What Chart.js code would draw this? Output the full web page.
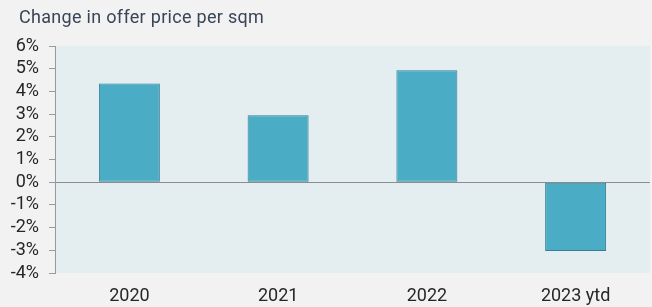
<!DOCTYPE html>
<html>
<head>
<meta charset="utf-8">
<script src="https://cdn.jsdelivr.net/npm/chart.js@4.4.0/dist/chart.umd.min.js"></script>
<style>
  html, body { margin: 0; padding: 0; background: #f2f2f2; }
  #wrap { width: 652px; height: 307px; }
</style>
</head>
<body>
<div id="wrap"><canvas id="myChart" width="652" height="307"></canvas></div>
<script>
const titleText = "Change in offer price per sqm";
const labels = ["2020", "2021", "2022", "2023 ytd"];
const changeVals = [4.35, 2.95, 4.93, -3.03];

// page + plot background, and the title line
const backdrop = {
  id: "backdrop",
  beforeDraw(chart) {
    const { ctx, chartArea } = chart;
    ctx.save();
    ctx.fillStyle = "#f2f2f2";
    ctx.fillRect(0, 0, chart.width, chart.height);
    ctx.fillStyle = "#e4edef";
    ctx.fillRect(chartArea.left, chartArea.top, chartArea.right - chartArea.left, chartArea.bottom - chartArea.top);
    ctx.fillStyle = "#3a4556";
    ctx.font = "18px Roboto";
    ctx.letterSpacing = "0.3px";
    ctx.textBaseline = "middle";
    ctx.fillText(titleText, 19, 18);
    ctx.restore();
  },
};

const config = {
  type: "bar",
  data: {
    labels: labels,
    datasets: [
      {
        data: changeVals,
        backgroundColor: "#4aacc5",
        borderColor: "#367f94",
        borderWidth: 1,
        borderSkipped: false,
        barPercentage: 0.41,
        categoryPercentage: 1,
      },
    ],
  },
  options: {
    responsive: false,
    animation: false,
    layout: { padding: { top: 46, right: 2, bottom: 0, left: 0 } },
    plugins: {
      legend: { display: false },
      tooltip: { enabled: false },
    },
    scales: {
      x: {
        afterFit(scale) {
          scale.height = 34;
        },
        grid: { display: false, drawTicks: false },
        border: { display: false },
        ticks: {
          color: "#262626",
          font: { family: "Roboto", size: 18 },
          padding: 13,
        },
      },
      y: {
        min: -4,
        max: 6,
        afterFit(scale) {
          scale.width = 55;
        },
        ticks: {
          stepSize: 1,
          autoSkip: false,
          color: "#262626",
          font: { family: "Roboto", size: 18 },
          padding: 10,
          callback: (v) => v + "%",
        },
        grid: {
          color: (c) => (c.tick && c.tick.value === 0 ? "#8c8c8c" : "rgba(0,0,0,0)"),
          tickColor: "#9a9a9a",
          tickLength: 6,
          lineWidth: 1,
        },
        border: { display: true, color: "#9a9a9a" },
      },
    },
  },
  plugins: [backdrop],
};

const myChart = new Chart(document.getElementById("myChart"), config);
</script>
</body>
</html>
